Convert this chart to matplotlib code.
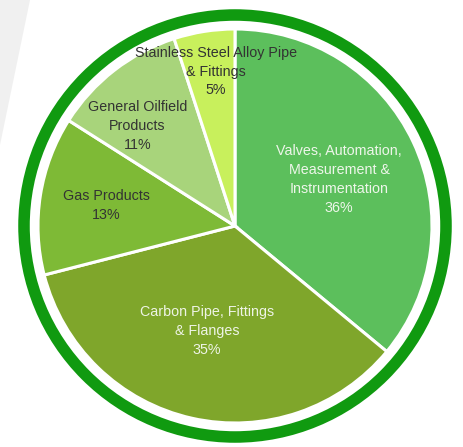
import matplotlib
matplotlib.use("Agg")
import matplotlib.pyplot as plt
import numpy as np
from matplotlib.patches import Polygon, Circle

categories = ["Valves, Automation,\nMeasurement &\nInstrumentation",
              "Carbon Pipe, Fittings\n& Flanges",
              "Gas Products",
              "General Oilfield\nProducts",
              "Stainless Steel Alloy Pipe\n& Fittings"]
values = [36, 35, 13, 11, 5]

colors = ["#5CBF5C", "#7FA62B", "#7EBA36", "#A8D47B", "#C8F05C"]
text_colors = ["#EEF6EA", "#EEF4E6", "#333333", "#333333", "#333333"]
label_r = [0.58, 0.55, 0.66, 0.71, 0.79]
label_dang = [-1.0, -2.4, 0.0, 6.5, -2.0]

W, H = 463, 447
fig = plt.figure(figsize=(W / 100, H / 100), dpi=100)
fig.patch.set_facecolor("white")
ax = fig.add_axes([0, 0, 1, 1])

# faint gray backdrop shape at top-left
ax.add_patch(Polygon([[0, H], [30, H], [0, H - 145]], closed=True,
                     facecolor="#F0F0F0", edgecolor="none", zorder=0))

cx, cy, R = 235, H - 226, 197
wedges, _ = ax.pie(values, colors=colors, startangle=90, counterclock=False,
                   center=(cx, cy), radius=R, frame=True,
                   wedgeprops=dict(edgecolor="white", linewidth=2.2, zorder=2))

for w, lab, v, tc, lr, da in zip(wedges, categories, values, text_colors,
                                 label_r, label_dang):
    mid = np.deg2rad((w.theta1 + w.theta2) / 2 + da)
    tx = cx + lr * R * np.cos(mid)
    ty = cy + lr * R * np.sin(mid)
    ax.text(tx, ty, f"{lab}\n{v}%", ha="center", va="center", color=tc,
            fontsize=10.3, family=["Liberation Sans", "DejaVu Sans"],
            linespacing=1.45, zorder=5)

ax.add_patch(Circle((cx, cy), 211, facecolor="none", edgecolor="#109A10",
                    linewidth=8.3, zorder=3))

ax.set_xlim(0, W)
ax.set_ylim(0, H)
ax.set_aspect("equal")
ax.axis("off")

fig.savefig("out.png", dpi=100, facecolor="white")
